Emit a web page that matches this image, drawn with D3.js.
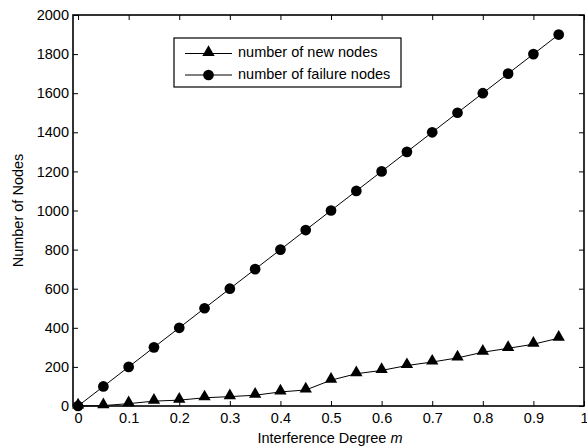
<!DOCTYPE html>
<html>
<head>
<meta charset="utf-8">
<script src="https://cdn.jsdelivr.net/npm/d3@7"></script>
<style>
  body { margin: 0; background: #fff; }
  svg { display: block; font-family: "Liberation Sans", Arial, sans-serif; }
</style>
</head>
<body>
<script>
const xValues = [0, 0.05, 0.1, 0.15, 0.2, 0.25, 0.3, 0.35, 0.4, 0.45, 0.5, 0.55, 0.6, 0.65, 0.7, 0.75, 0.8, 0.85, 0.9, 0.95];
const newNodes = [0, 2, 12, 25, 30, 42, 48, 55, 72, 82, 132, 165, 182, 207, 225, 246, 275, 295, 316, 347];
const failureNodes = [0, 100, 200, 300, 400, 500, 600, 700, 800, 900, 1000, 1100, 1200, 1300, 1400, 1500, 1600, 1700, 1800, 1900];
const xTicks = [0, 0.1, 0.2, 0.3, 0.4, 0.5, 0.6, 0.7, 0.8, 0.9, 1];
const yTicks = [0, 200, 400, 600, 800, 1000, 1200, 1400, 1600, 1800, 2000];
const seriesNames = ["number of new nodes", "number of failure nodes"];

const width = 587, height = 446;
const plotLeft = 73, plotRight = 584, plotTop = 15, plotBottom = 406;
const fontSize = "14.5px";

const svg = d3.select("body").append("svg")
  .attr("width", width)
  .attr("height", height);

const x = d3.scaleLinear().domain([-0.01, 1]).range([plotLeft, plotRight]);
const y = d3.scaleLinear().domain([0, 2000]).range([plotBottom, plotTop]);

// ticks pointing inward on all four sides
const tickLen = 5;
const axisG = svg.append("g");

axisG.append("g")
  .attr("transform", `translate(0,${plotBottom})`)
  .call(d3.axisBottom(x).tickValues(xTicks).tickSize(-tickLen).tickSizeOuter(0).tickPadding(7).tickFormat(d3.format("")))
  .call(g => g.select(".domain").remove());

axisG.append("g")
  .attr("transform", `translate(0,${plotTop})`)
  .call(d3.axisTop(x).tickValues(xTicks).tickSize(-tickLen).tickSizeOuter(0).tickFormat(""))
  .call(g => g.select(".domain").remove());

axisG.append("g")
  .attr("transform", `translate(${plotLeft},0)`)
  .call(d3.axisLeft(y).tickValues(yTicks).tickSize(-tickLen).tickSizeOuter(0).tickPadding(4).tickFormat(d3.format("d")))
  .call(g => g.select(".domain").remove());

axisG.append("g")
  .attr("transform", `translate(${plotRight},0)`)
  .call(d3.axisRight(y).tickValues(yTicks).tickSize(-tickLen).tickSizeOuter(0).tickFormat(""))
  .call(g => g.select(".domain").remove());

axisG.selectAll("text")
  .style("font-size", fontSize)
  .style("font-family", "Liberation Sans, Arial, sans-serif")
  .attr("fill", "#000");
axisG.selectAll("line").attr("stroke", "#000");

svg.append("rect")
  .attr("x", plotLeft).attr("y", plotTop)
  .attr("width", plotRight - plotLeft).attr("height", plotBottom - plotTop)
  .attr("fill", "none").attr("stroke", "#000").attr("stroke-width", 1.6);

const line = d3.line().x(d => x(d[0])).y(d => y(d[1]));
const newData = xValues.map((v, i) => [v, newNodes[i]]);
const failData = xValues.map((v, i) => [v, failureNodes[i]]);

const triangle = d3.symbol().type(d3.symbolTriangle).size(66);
const circle = d3.symbol().type(d3.symbolCircle).size(90);

svg.append("path").datum(failData).attr("d", line)
  .attr("fill", "none").attr("stroke", "#000").attr("stroke-width", 1);
svg.append("path").datum(newData).attr("d", line)
  .attr("fill", "none").attr("stroke", "#000").attr("stroke-width", 1);

svg.selectAll(".tri").data(newData).enter().append("path")
  .attr("class", "tri")
  .attr("d", triangle)
  .attr("transform", d => `translate(${x(d[0])},${y(d[1]) - 1})`)
  .attr("fill", "#000");

svg.selectAll(".dot").data(failData).enter().append("path")
  .attr("class", "dot")
  .attr("d", circle)
  .attr("transform", d => `translate(${x(d[0])},${y(d[1])})`)
  .attr("fill", "#000");

// legend
const legend = svg.append("g").attr("id", "legend");
legend.append("rect")
  .attr("x", 174).attr("y", 38).attr("width", 227).attr("height", 49)
  .attr("fill", "#fff").attr("stroke", "#000").attr("stroke-width", 1.2);

const rows = [{name: seriesNames[0], sym: triangle, dy: -1}, {name: seriesNames[1], sym: circle, dy: 0}];
rows.forEach((r, i) => {
  const ry = 53.5 + i * 21.5;
  legend.append("line").attr("x1", 185).attr("x2", 232).attr("y1", ry).attr("y2", ry)
    .attr("stroke", "#000");
  legend.append("path").attr("d", r.sym).attr("transform", `translate(208.5,${ry + r.dy})`).attr("fill", "#000");
  legend.append("text").attr("x", 238).attr("y", ry + 3.8)
    .style("font-size", fontSize).text(r.name);
});

// axis labels
svg.append("text")
  .attr("x", 330).attr("y", 443)
  .attr("text-anchor", "middle")
  .style("font-size", fontSize)
  .call(t => {
    t.append("tspan").text("Interference Degree  ");
    t.append("tspan").style("font-style", "italic").text("m");
  });

svg.append("text")
  .attr("transform", `translate(23,${(plotTop + plotBottom) / 2}) rotate(-90)`)
  .attr("text-anchor", "middle")
  .style("font-size", fontSize)
  .text("Number of Nodes");
</script>
</body>
</html>
